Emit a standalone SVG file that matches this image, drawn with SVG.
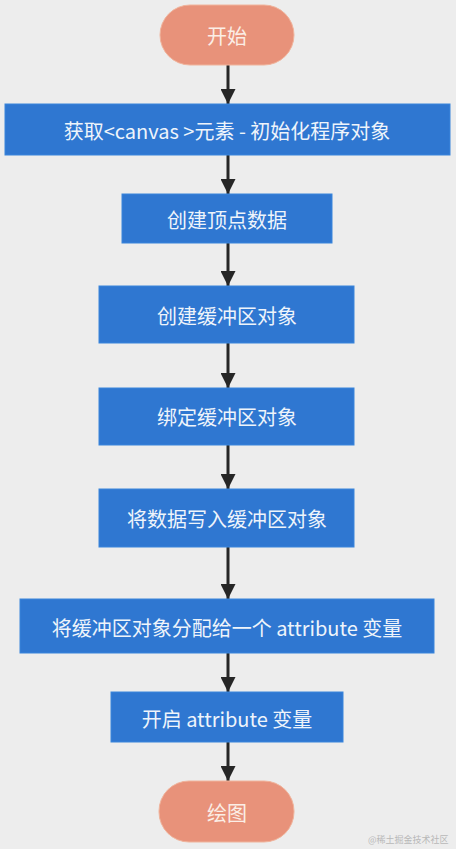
<svg xmlns="http://www.w3.org/2000/svg" width="456" height="849" viewBox="0 0 456 849">
<style>
.bg{fill:#ededed}
.box{fill:#2f77d1;stroke:#3a86dc;stroke-width:1}
.term{fill:#e8927a;stroke:#f0b49c;stroke-width:1}
.t{font-family:"Noto Sans CJK SC","Noto Sans",sans-serif;font-size:20px;fill:#eef4fb;text-anchor:middle;dominant-baseline:central}
.tt{font-family:"Noto Sans CJK SC","Noto Sans",sans-serif;font-size:20px;fill:#fbeee6;text-anchor:middle;dominant-baseline:central}
.edge{stroke:#262626;stroke-width:3;fill:none;marker-end:url(#ah)}
.wm{font-family:"Noto Sans CJK SC",sans-serif;font-size:9px;fill:#b8b8b8}
</style>
<defs>
<marker id="ah" viewBox="0 0 10 10" refX="10" refY="5" markerWidth="5.5" markerHeight="5" markerUnits="strokeWidth" orient="auto">
<path d="M0,0 L10,5 L0,10 z" fill="#262626"/>
</marker>
</defs>
<rect class="bg" x="0" y="0" width="456" height="849"/>
<g id="edges">
<line class="edge" x1="228" y1="65" x2="228" y2="104"/>
<line class="edge" x1="228" y1="155" x2="228" y2="194"/>
<line class="edge" x1="228" y1="243" x2="228" y2="286"/>
<line class="edge" x1="228" y1="343" x2="228" y2="388"/>
<line class="edge" x1="228" y1="445" x2="228" y2="489"/>
<line class="edge" x1="228" y1="547" x2="228" y2="599"/>
<line class="edge" x1="228" y1="653" x2="228" y2="692"/>
<line class="edge" x1="228" y1="742" x2="228" y2="781"/>
</g>
<g id="start"><rect class="term" x="160" y="5" width="134" height="60" rx="30"/><text class="tt" x="227" y="35">开始</text></g>
<g id="n1"><rect class="box" x="5" y="104" width="445" height="51"/><text class="t" x="227" y="130">获取&lt;canvas &gt;元素 - 初始化程序对象</text></g>
<g id="n2"><rect class="box" x="122" y="194" width="210" height="49"/><text class="t" x="227" y="219">创建顶点数据</text></g>
<g id="n3"><rect class="box" x="99" y="286" width="255" height="57"/><text class="t" x="227" y="315">创建缓冲区对象</text></g>
<g id="n4"><rect class="box" x="99" y="388" width="255" height="57"/><text class="t" x="227" y="416">绑定缓冲区对象</text></g>
<g id="n5"><rect class="box" x="99" y="489" width="255" height="58"/><text class="t" x="227" y="518">将数据写入缓冲区对象</text></g>
<g id="n6"><rect class="box" x="20" y="599" width="414" height="54"/><text class="t" x="227" y="627">将缓冲区对象分配给一个 attribute 变量</text></g>
<g id="n7"><rect class="box" x="111" y="692" width="232" height="50"/><text class="t" x="227" y="718">开启 attribute 变量</text></g>
<g id="end"><rect class="term" x="159" y="781" width="135" height="61" rx="30"/><text class="tt" x="227" y="812">绘图</text></g>
<text class="wm" x="368" y="843">@稀土掘金技术社区</text>
</svg>
